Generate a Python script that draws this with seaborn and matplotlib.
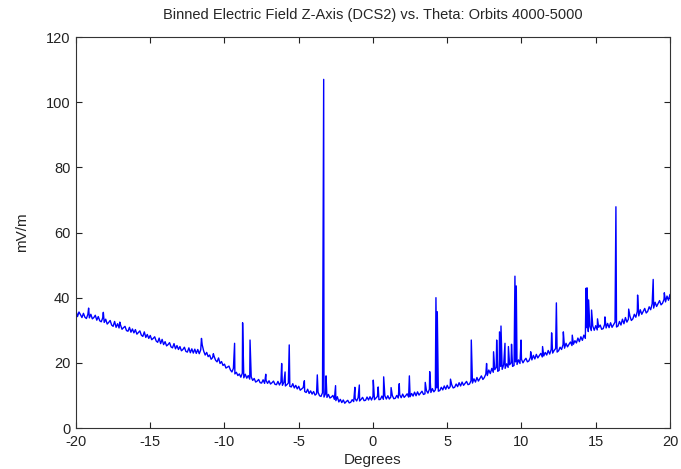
import pandas as pd
import numpy as np
import seaborn as sns
import matplotlib
matplotlib.use("Agg")
import matplotlib.pyplot as plt

# baseline bins, theta from -20 to 20 every 0.1 degree
theta_step = 0.1
base_values = [
    36.0, 34.2, 35.6, 34.8, 33.9, 35.2, 34.0, 33.6, 34.9, 33.8,
    34.9, 33.5, 33.9, 34.6, 33.1, 34.2, 32.9, 32.6, 33.8, 32.4,
    33.4, 31.9, 32.4, 33.0, 31.6, 31.2, 32.7, 30.9, 32.0, 30.7,
    31.6, 30.3, 30.8, 31.2, 29.9, 29.7, 30.9, 29.4, 30.4, 29.2,
    30.2, 28.8, 29.3, 29.8, 28.5, 28.1, 29.5, 27.8, 28.7, 27.5,
    28.4, 27.1, 27.5, 28.0, 26.7, 26.3, 27.6, 25.9, 27.2, 25.6,
    26.5, 25.2, 25.6, 26.2, 24.9, 24.6, 25.9, 24.3, 25.3, 24.1,
    25.0, 23.7, 24.1, 24.8, 23.5, 23.3, 24.6, 23.1, 24.3, 23.0,
    24.2, 22.9, 24.1, 22.8, 24.0, 25.5, 23.6, 22.4, 23.2, 21.9,
    22.4, 21.1, 21.6, 22.0, 20.8, 20.3, 21.5, 19.8, 20.4, 19.2,
    19.6, 18.4, 18.7, 19.0, 17.8, 17.2, 18.3, 16.6, 17.1, 16.1,
    16.6, 15.6, 16.8, 15.4, 16.5, 15.3, 16.1, 15.0, 15.7, 14.6,
    15.2, 14.1, 14.4, 14.9, 13.9, 13.8, 14.8, 13.7, 14.6, 13.7,
    14.5, 13.5, 13.9, 14.4, 13.4, 13.3, 14.3, 13.2, 14.1, 13.1,
    14.0, 12.9, 13.3, 13.8, 12.8, 12.6, 13.6, 12.3, 13.1, 12.0,
    12.8, 11.6, 12.0, 12.4, 11.2, 10.9, 11.9, 10.6, 11.4, 10.4,
    11.2, 10.1, 10.5, 11.0, 9.9, 9.7, 10.8, 9.5, 10.5, 9.4,
    10.3, 9.2, 9.5, 10.0, 8.8, 8.4, 9.6, 8.0, 8.8, 7.8,
    8.6, 7.6, 8.1, 8.5, 7.7, 7.9, 8.7, 8.1, 9.0, 8.3,
    9.3, 8.3, 8.8, 9.4, 8.4, 8.5, 9.5, 8.6, 9.6, 8.6,
    9.7, 8.7, 9.2, 9.7, 8.7, 8.8, 9.8, 8.8, 9.9, 8.9,
    9.9, 8.9, 9.5, 10.0, 9.0, 9.1, 10.0, 9.2, 10.2, 9.3,
    10.4, 9.4, 9.9, 10.5, 9.5, 9.6, 10.6, 9.8, 11.0, 9.9,
    11.1, 10.1, 10.7, 11.3, 10.3, 10.5, 11.5, 10.7, 11.9, 10.9,
    12.1, 11.1, 11.7, 12.3, 11.3, 11.5, 12.5, 11.7, 12.9, 11.9,
    13.1, 12.1, 12.7, 13.3, 12.3, 12.5, 13.5, 12.7, 13.9, 12.9,
    14.1, 13.1, 13.7, 14.3, 13.3, 13.5, 14.5, 13.8, 15.1, 14.1,
    15.5, 14.4, 15.2, 16.0, 14.9, 15.5, 16.6, 16.1, 17.8, 16.7,
    18.3, 17.1, 17.9, 18.6, 17.4, 17.7, 18.9, 18.0, 19.4, 18.3,
    19.7, 18.6, 19.4, 20.0, 18.9, 19.2, 20.3, 19.5, 20.9, 19.8,
    21.1, 20.0, 20.8, 21.4, 20.3, 20.6, 21.7, 20.9, 22.3, 21.2,
    22.6, 21.5, 22.2, 22.9, 21.8, 22.1, 23.2, 22.4, 23.8, 22.7,
    24.1, 23.0, 23.8, 24.4, 23.3, 23.7, 24.8, 24.1, 25.6, 24.5,
    26.0, 24.9, 25.7, 26.4, 25.3, 25.7, 26.8, 26.1, 27.6, 26.5,
    28.0, 26.9, 28.5, 27.5, 30.8, 29.6, 31.2, 29.9, 31.3, 30.0,
    31.4, 30.1, 30.9, 31.6, 30.3, 30.5, 31.8, 30.7, 32.1, 30.8,
    32.3, 30.9, 31.7, 32.5, 31.0, 31.3, 32.7, 31.6, 33.4, 32.0,
    33.9, 32.5, 33.4, 34.4, 33.0, 33.5, 34.9, 34.0, 35.8, 34.4,
    36.3, 34.9, 35.8, 36.7, 35.3, 35.8, 37.2, 36.3, 38.1, 36.8,
    38.6, 37.3, 38.2, 39.1, 37.8, 38.3, 39.5, 38.7, 40.5, 39.2,
    41.0,
]

# narrow spikes (theta in degrees, mV/m)
spike_theta = [
    -19.15, -18.16, -17.05, -11.55, -10.75, -9.32, -8.78, -8.28, -7.22,
    -6.15, -5.92, -5.64, -4.62, -3.75, -3.32, -3.16, -2.52, -1.22, -0.92,
    0.02, 0.35, 0.72, 1.22, 1.77, 2.45, 3.52, 3.82, 4.24, 4.33, 5.22,
    6.62, 7.65, 8.12, 8.33, 8.52, 8.62, 8.89, 9.12, 9.33, 9.56, 9.65,
    9.97, 10.62, 11.42, 12.03, 12.35, 12.82, 13.42, 14.35, 14.42, 14.52,
    14.72, 15.12, 15.62, 16.36, 17.22, 17.82, 18.87, 19.62,
]
spike_values = [
    36.8, 35.5, 32.5, 27.5, 22.8, 26.0, 32.3, 27.0, 16.5,
    19.8, 17.2, 25.5, 14.5, 16.3, 107.0, 16.0, 13.0, 12.5, 13.2,
    14.7, 12.6, 15.7, 12.4, 13.6, 16.0, 14.0, 17.3, 40.0, 35.7, 15.0,
    27.0, 19.8, 23.4, 27.0, 29.5, 31.3, 26.0, 25.0, 25.7, 46.6, 43.6,
    27.0, 23.4, 25.0, 29.2, 38.4, 29.5, 28.5, 42.9, 43.0, 39.3,
    36.2, 33.5, 34.1, 67.9, 36.5, 40.8, 45.6, 41.5,
]

theta_base = np.arange(len(base_values)) * theta_step - 20
df = pd.DataFrame({
    "theta": np.concatenate([theta_base, spike_theta]),
    "field": np.concatenate([base_values, spike_values]),
})

sns.set_style("ticks")
plt.rcParams["font.family"] = ["Liberation Sans", "DejaVu Sans"]
plt.rcParams["xtick.direction"] = "in"
plt.rcParams["ytick.direction"] = "in"
plt.rcParams["axes.unicode_minus"] = False

fig = plt.figure(figsize=(6.81, 4.69), dpi=100)
ax = fig.add_axes([0.1116, 0.0874, 0.8722, 0.8337])
sns.lineplot(data=df, x="theta", y="field", color="#0000ff", linewidth=1.0,
             sort=True, estimator=None, ax=ax)

ax.set_xlim(-20, 20)
ax.set_ylim(0, 120)
ax.set_xticks(range(-20, 21, 5))
ax.set_yticks(range(0, 121, 20))
ax.tick_params(top=True, right=True, length=4, width=0.8, labelsize=10.5,
               colors="#222222")
ax.tick_params(axis="x", pad=5)
ax.tick_params(axis="y", pad=4)
for s in ax.spines.values():
    s.set_color("#333333")
    s.set_linewidth(0.8)
ax.set_title("Binned Electric Field Z-Axis (DCS2) vs. Theta: Orbits 4000-5000",
             fontsize=10.5, pad=13)
ax.set_xlabel("Degrees", fontsize=11, labelpad=3)
ax.set_ylabel("mV/m", fontsize=11, labelpad=12)

fig.savefig("out.png", dpi=100)
